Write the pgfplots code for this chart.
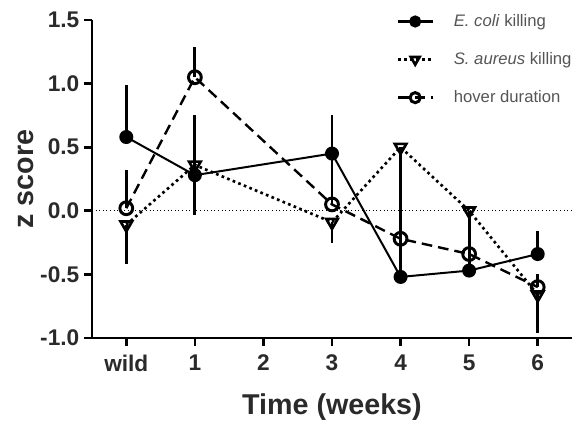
\documentclass[border=0pt]{standalone}
\usepackage{fontspec}
\setmainfont{Liberation Sans}
\usepackage{pgfplots}
\pgfplotsset{compat=1.18}
\definecolor{txtgray}{HTML}{2A2A2A}
\definecolor{leggray}{HTML}{555555}
\begin{document}
\begin{tikzpicture}
\begin{axis}[
  scale only axis, width=360pt, height=238.5pt,
  xmin=-0.5, xmax=6.5, ymin=-1.0, ymax=1.5,
  axis lines=left, axis line style={-, line width=2pt},
  xtick={0,1,2,3,4,5,6}, xticklabels={wild,1,2,3,4,5,6},
  ytick={-1,-0.5,0,0.5,1,1.5},
  tick align=outside, major tick length=6pt,
  tick style={line width=2pt, black},
  /pgf/number format/assume math mode=true,
  yticklabel style={/pgf/number format/.cd, fixed, fixed zerofill, precision=1},
  ticklabel style={font=\fontsize{17}{19}\selectfont\bfseries, text=txtgray},
  xticklabel style={yshift=-3pt},
  xlabel={Time (weeks)}, ylabel={z score},
  label style={font=\fontsize{21.5}{24}\selectfont\bfseries, text=txtgray},
  xlabel style={yshift=-10pt},
  ylabel style={yshift=-2pt},
  clip=false,
  legend style={at={(0.625,1.035)}, anchor=north west, draw=none, fill=none,
    font=\fontsize{12.5}{15}\selectfont, text=leggray, row sep=14pt,
    legend cell align=left},
  legend image code/.code={
    \path[draw=none, fill=none] (0pt,0pt) -- (40pt,0pt);
    \draw[#1, line width=2.4pt] (0pt,0pt) -- (26pt,0pt);
    \draw[#1, only marks, mark size=3.8pt] plot coordinates {(13pt,0pt)};
  },
  error bars/y dir=both, error bars/y explicit,
  error bars/error mark=none,
  error bars/error bar style={solid, line width=2.2pt, black},
]
% zero reference line
\addplot[black, line width=0.7pt, dotted, forget plot] coordinates {(-0.5,0) (6.5,0)};

% E. coli killing
\addplot[black, line width=1.5pt, mark=*, mark size=4.5pt, mark options={solid}]
  coordinates {
  (0,0.58) +=(0,0.41) -=(0,0)
  (1,0.28) +=(0,0.47) -=(0,0)
  (3,0.45) +=(0,0.30) -=(0,0)
  (4,-0.52) +=(0,0.30) -=(0,0)
  (5,-0.47) +=(0,0.20) -=(0,0)
  (6,-0.34) +=(0,0.18) -=(0,0)
  };
% S. aureus killing
\addplot[black, line width=2pt, dash pattern=on 2pt off 2.5pt, mark=triangle, mark size=5pt,
  mark options={solid, rotate=180, fill=white, line width=2pt}]
  coordinates {
  (0,-0.11) +=(0,0) -=(0,0.31)
  (1,0.36) +=(0,0) -=(0,0.39)
  (3,-0.09) +=(0,0) -=(0,0.16)
  (4,0.50) +=(0,0) -=(0,1.0)
  (5,0.00) +=(0,0) -=(0,0.35)
  (6,-0.66) +=(0,0) -=(0,0.30)
  };
% hover duration
\addplot[black, line width=1.8pt, dash pattern=on 8pt off 4.5pt, mark=o, mark size=4.8pt,
  mark options={solid, fill=white, line width=2.2pt}]
  coordinates {
  (0,0.02) +=(0,0.30) -=(0,0)
  (1,1.05) +=(0,0.24) -=(0,0)
  (3,0.05) +=(0,0.35) -=(0,0)
  (4,-0.22) +=(0,0.20) -=(0,0)
  (5,-0.34) +=(0,0.25) -=(0,0)
  (6,-0.60) +=(0,0.10) -=(0,0)
  };
\legend{\textit{E. coli} killing, \textit{S. aureus} killing, hover duration}
\coordinate (bbsw) at (rel axis cs:-0.1917,-0.2736);
\coordinate (bbne) at (rel axis cs:1.0125,1.0629);
\end{axis}
\pgfresetboundingbox
\path[use as bounding box] (bbsw) rectangle (bbne);
\end{tikzpicture}
\end{document}
